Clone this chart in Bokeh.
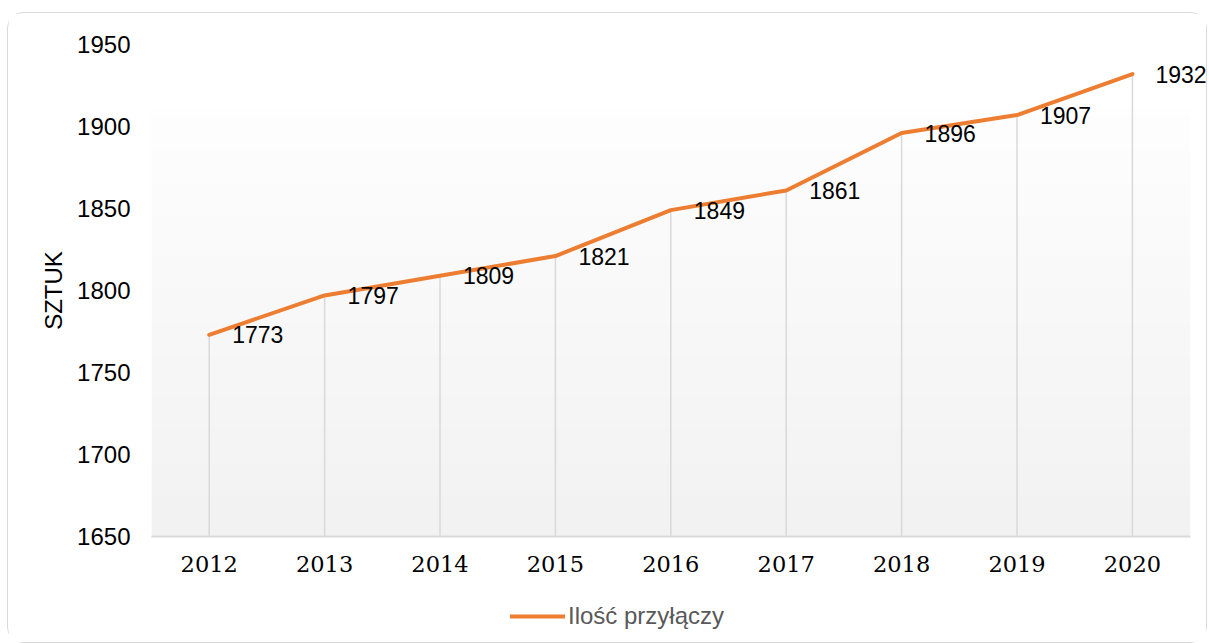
import numpy as np
from bokeh.plotting import figure
from bokeh.layouts import column
from bokeh.models import (Range1d, FixedTicker, ColumnDataSource, LabelSet,
                          Legend, LegendItem)
from bokeh.core.properties import value
from bokeh.embed import file_html
from bokeh.resources import INLINE

years = [2012, 2013, 2014, 2015, 2016, 2017, 2018, 2019, 2020]
values = [1773, 1797, 1809, 1821, 1849, 1861, 1896, 1907, 1932]
y_ticks = [1650, 1700, 1750, 1800, 1850, 1900, 1950]
series_name = "Ilość przyłączy"
y_title = "SZTUK"

ORANGE = "#ED7D31"
GRID = "#d9d9d9"

src = ColumnDataSource(dict(x=years, y=values, base=[y_ticks[0]] * len(years),
                            lab=[str(v) for v in values]))

x_lo = years[0] - 0.5
x_hi = years[-1] + 0.5
# frame extends a little past the last category so the last label is not cut
p = figure(width=1198, height=575, output_backend="svg", toolbar_location=None,
           x_range=Range1d(x_lo, x_hi + 0.142),
           y_range=Range1d(y_ticks[0], y_ticks[-1]),
           min_border_left=143, min_border_right=0, min_border_top=31,
           min_border_bottom=52)
p.outline_line_color = None
p.background_fill_color = "white"
p.border_fill_color = "white"
p.grid.visible = False

# soft vertical gradient in the plot area
n = 64
shade = np.linspace(242, 254, n).astype(np.uint32)
img = np.empty((n, 1), dtype=np.uint32)
view = img.view(dtype=np.uint8).reshape((n, 1, 4))
view[:, 0, 0] = shade
view[:, 0, 1] = shade
view[:, 0, 2] = shade
view[:, 0, 3] = 255
p.image_rgba(image=[img], x=x_lo, y=y_ticks[0], dw=x_hi - x_lo, dh=260)

# drop lines
p.segment(x0="x", y0="base", x1="x", y1="y", source=src,
          line_color=GRID, line_width=1.5)

p.line("x", "y", source=src, line_color=ORANGE, line_width=4,
       line_join="round", line_cap="round")

labels = LabelSet(x="x", y="y", text="lab", source=src, x_offset=23,
                  text_baseline="middle", text_align="left",
                  text_font=value("Liberation Sans"),
                  text_font_size=value("23px"), text_color="black")
p.add_layout(labels)

# axes
p.xaxis.ticker = FixedTicker(ticks=years)
p.xaxis.bounds = (x_lo, x_hi)
p.xaxis.axis_line_color = GRID
p.xaxis.axis_line_width = 2
p.xaxis.major_tick_line_color = None
p.xaxis.minor_tick_line_color = None
p.xaxis.major_tick_out = 0
p.xaxis.minor_tick_out = 0
p.xaxis.major_label_text_font = "DejaVu Serif"
p.xaxis.major_label_text_font_size = "22.5px"
p.xaxis.major_label_text_color = "black"
p.xaxis.major_label_standoff = 19

p.yaxis.ticker = FixedTicker(ticks=y_ticks)
p.yaxis.axis_line_color = None
p.yaxis.major_tick_line_color = None
p.yaxis.minor_tick_line_color = None
p.yaxis.major_tick_out = 0
p.yaxis.minor_tick_out = 0
p.yaxis.major_label_text_font = "Liberation Sans"
p.yaxis.major_label_text_font_size = "24px"
p.yaxis.major_label_text_color = "black"
p.yaxis.major_label_standoff = 21
p.yaxis.axis_label = y_title
p.yaxis.axis_label_text_font = "Liberation Sans"
p.yaxis.axis_label_text_font_size = "24px"
p.yaxis.axis_label_text_font_style = "normal"
p.yaxis.axis_label_text_color = "black"
p.yaxis.axis_label_standoff = 7

# legend strip below the chart (series drawn off-view, only its key shows)
p2 = figure(width=1198, height=54, output_backend="svg", toolbar_location=None,
            min_border=0, x_axis_type=None, y_axis_type=None,
            x_range=Range1d(0, 1), y_range=Range1d(0, 1))
p2.outline_line_color = None
p2.grid.visible = False
p2.background_fill_color = "white"
p2.border_fill_color = "white"
key = p2.line("x", "y", source=src, line_color=ORANGE, line_width=4,
              line_cap="round")
legend = Legend(items=[LegendItem(label=series_name, renderers=[key])],
                location=(359, 12), orientation="horizontal",
                glyph_width=55, glyph_height=20, label_standoff=3,
                label_text_font="Liberation Sans", label_text_font_size="24px",
                label_text_color="#595959", border_line_color=None,
                background_fill_alpha=0, padding=0, margin=0)
p2.add_layout(legend, "center")

layout = column(p, p2, spacing=0)
layout.styles = {"border": "1px solid #d9d9d9", "border-radius": "16px",
                 "margin-top": "12px", "margin-left": "7px",
                 "background": "white"}

open("out.html", "w").write(file_html(layout, INLINE))
